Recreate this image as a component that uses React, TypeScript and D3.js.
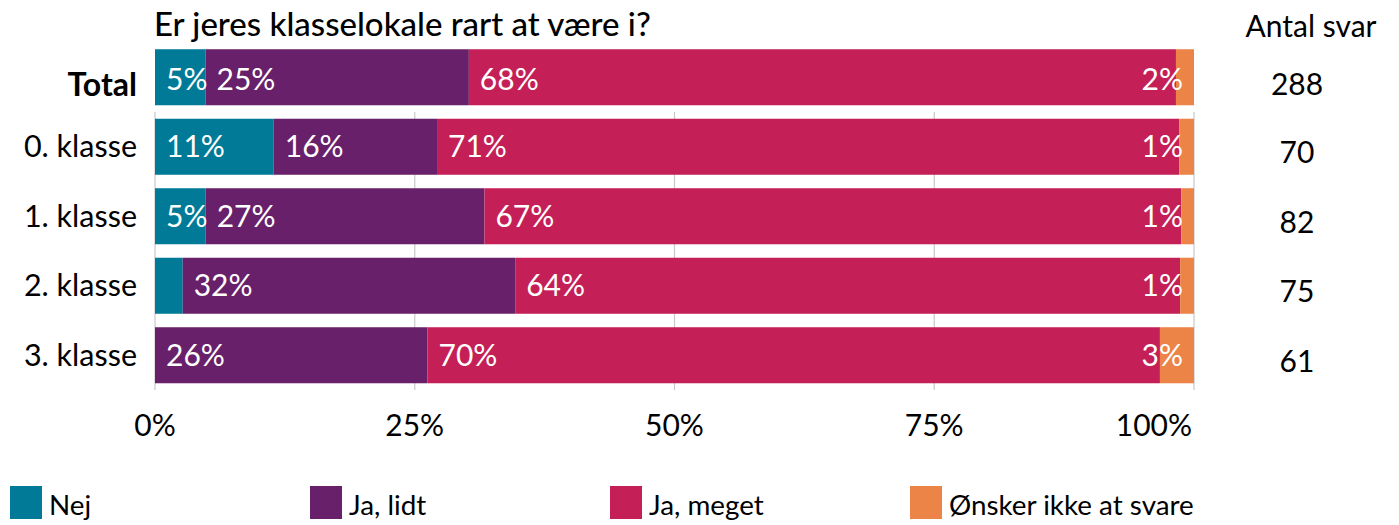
import React from "react";
import * as d3 from "d3";

const categories = ["Total", "0. klasse", "1. klasse", "2. klasse", "3. klasse"];
const seriesNames = ["Nej", "Ja, lidt", "Ja, meget", "Ønsker ikke at svare"];
const colors = ["#007A96", "#68206A", "#C42057", "#EC8447"];
// answer counts per category
const nej = [14, 8, 4, 2, 0];
const jaLidt = [73, 11, 22, 24, 16];
const jaMeget = [196, 50, 55, 48, 43];
const oenskerIkke = [5, 1, 1, 1, 2];
const tickValues = [0, 0.25, 0.5, 0.75, 1];

const title = "Er jeres klasselokale rart at være i?";
const nHeader = "Antal svar";

const W = 1399;
const H = 525;
const FONT = "Lato, 'Open Sans', sans-serif";

export default function App() {
  const series = [nej, jaLidt, jaMeget, oenskerIkke];
  const totals = categories.map((_, i) => d3.sum(series, (s) => s[i]));
  const rows = categories.map((c, i) => {
    const obj: any = { cat: c, n: totals[i] };
    seriesNames.forEach((name, k) => (obj[name] = series[k][i] / totals[i]));
    return obj;
  });
  const stacked = d3.stack().keys(seriesNames)(rows);

  const x = d3.scaleLinear().domain([0, 1]).range([155, 1194]);
  const y = d3
    .scaleBand()
    .domain(categories)
    .range([42.5, 390])
    .paddingInner(0.194)
    .paddingOuter(0.097);
  const bw = y.bandwidth();
  const gap = (y.step() - bw) / 2;
  const gridTop = (y(categories[1]) as number) - gap;
  const gridBottom = 390;
  const cy = (c: string) => (y(c) as number) + bw / 2;

  return (
    <svg
      width={W}
      height={H}
      style={{ position: "absolute", left: 0, top: 0, background: "#fff" }}
      fontFamily={FONT}
    >
      {tickValues.map((t) => (
        <line
          key={"g" + t}
          x1={x(t)}
          x2={x(t)}
          y1={gridTop}
          y2={gridBottom}
          stroke="#c8c8c8"
          strokeWidth={1.2}
        />
      ))}
      {stacked.map((layer, k) => (
        <g key={layer.key} fill={colors[k]}>
          {layer.map((d, i) => (
            <rect
              key={i}
              x={x(d[0])}
              y={y(categories[i])}
              width={Math.max(0, x(d[1]) - x(d[0]))}
              height={bw}
            />
          ))}
        </g>
      ))}
      {stacked.map((layer, k) =>
        layer.map((d, i) => {
          const v = d[1] - d[0];
          const by = cy(categories[i]) + (i === 0 ? 12.5 : 10.5);
          if (k === seriesNames.length - 1) {
            if (v <= 0) return null;
            return (
              <text
                key={"l" + k + i}
                x={x(1) - 11}
                y={by}
                textAnchor="end"
                fill="#fff"
                fontSize={30}
              >
                {Math.round(v * 100) + "%"}
              </text>
            );
          }
          if (v < 0.04) return null;
          return (
            <text key={"l" + k + i} x={x(d[0]) + 11} y={by} fill="#fff" fontSize={30}>
              {Math.round(v * 100) + "%"}
            </text>
          );
        })
      )}
      {categories.map((c, i) => (
        <text
          key={"c" + c}
          x={137}
          y={cy(c) + (i === 0 ? 19 : 10.5)}
          textAnchor="end"
          fontSize={i === 0 ? 32 : 30.5}
          fontWeight={i === 0 ? 700 : 400}
          fill="#000"
        >
          {c}
        </text>
      ))}
      {categories.map((c, i) => (
        <text
          key={"n" + c}
          x={1297}
          y={cy(c) + (i === 0 ? 18 : 16.5)}
          textAnchor="middle"
          fontSize={30}
          fill="#000"
        >
          {totals[i]}
        </text>
      ))}
      <text x={1311} y={37} textAnchor="middle" fontSize={30} fill="#000">
        {nHeader}
      </text>
      <text x={154} y={36} fontSize={33} fill="#000" fontWeight={500}>
        {title}
      </text>
      {tickValues.map((t, i) => (
        <text
          key={"t" + t}
          x={i === tickValues.length - 1 ? x(t) - 2 : x(t)}
          y={436}
          textAnchor={i === tickValues.length - 1 ? "end" : "middle"}
          fontSize={30}
          fill="#000"
        >
          {d3.format(".0%")(t)}
        </text>
      ))}
      {seriesNames.map((s, k) => (
        <g key={"lg" + s} transform={`translate(${10 + k * 300},486)`}>
          <rect width={32} height={33} fill={colors[k]} />
          <text x={39} y={29} fontSize={27.8} fill="#000">
            {s}
          </text>
        </g>
      ))}
    </svg>
  );
}
